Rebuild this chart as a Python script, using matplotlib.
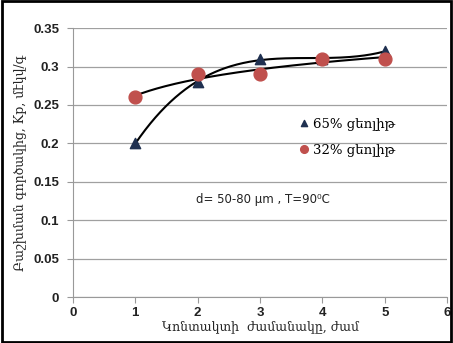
import numpy as np
import matplotlib
matplotlib.use("Agg")
import matplotlib.pyplot as plt
from matplotlib.patches import Rectangle

x = [1, 2, 3, 4, 5]
y65 = [0.20, 0.28, 0.31, 0.31, 0.32]
y32 = [0.26, 0.29, 0.29, 0.31, 0.31]
label65 = "65% ցեոլիթ"
label32 = "32% ցեոլիթ"
xlabel = "Կոնտակտի  ժամանակը, ժամ"
ylabel = "Բաշխման գործակից, Kp, մէկվ/գ"
note = "d= 50-80 µm , T=90⁰C"
xticks = [0, 1, 2, 3, 4, 5, 6]
yticks = [0, 0.05, 0.1, 0.15, 0.2, 0.25, 0.3, 0.35]

fig = plt.figure(figsize=(4.53, 3.43), dpi=100)
ax = fig.add_axes([0.161, 0.134, 0.826, 0.784])

xs = np.linspace(1, 5, 200)
c3 = np.polyfit(x, y65, 3)
ax.plot(xs, np.polyval(c3, xs), color="black", lw=1.5, zorder=2)
cl = np.polyfit(np.log(x), y32, 1)
ax.plot(xs, cl[0] * np.log(xs) + cl[1], color="black", lw=1.5, zorder=2)

ax.scatter(x, y65, marker="^", s=55, color="#1f3050", zorder=3, label=label65)
ax.scatter(x, y32, marker="o", s=85, color="#c0504d", zorder=3, label=label32)

ax.set_xlim(0, 6)
ax.set_ylim(0, 0.35)
ax.set_xticks(xticks)
ax.set_yticks(yticks)
ax.set_xticklabels([str(t) for t in xticks])
ax.set_yticklabels(["0", "0.05", "0.1", "0.15", "0.2", "0.25", "0.3", "0.35"])
for lab in ax.get_xticklabels() + ax.get_yticklabels():
    lab.set_fontweight("bold")
    lab.set_fontsize(9.5)
    lab.set_family("Liberation Sans")
    lab.set_color("#222222")

ax.grid(axis="y", color="#a0a0a0", lw=0.9)
ax.set_axisbelow(True)
for s in ["top", "right"]:
    ax.spines[s].set_visible(False)
ax.spines["left"].set_color("#999999")
ax.spines["bottom"].set_color("#999999")
ax.tick_params(axis="both", colors="#999999", length=4, labelcolor="#222222")
ax.tick_params(axis="y", pad=6)
ax.tick_params(axis="x", pad=3)

ax.set_xlabel(xlabel, family="DejaVu Serif", fontsize=9, color="#222222", labelpad=1)
ax.set_ylabel(ylabel, family="DejaVu Serif", fontsize=9, color="#222222", labelpad=4)

leg = ax.legend(loc="upper left", bbox_to_anchor=(0.585, 0.69), frameon=False,
                prop={"family": "DejaVu Serif", "size": 9.5}, handletextpad=0.2,
                labelspacing=1.0, borderaxespad=0, handlelength=1.0, markerscale=0.6)

ax.text(0.33, 0.35, note, transform=ax.transAxes, fontsize=8.5,
        family="DejaVu Sans", color="#222222")

fig.patches.append(Rectangle((0.004, 0.004), 0.992, 0.992, transform=fig.transFigure,
                             fill=False, edgecolor="black", lw=2))

fig.savefig("out.png", dpi=100)
